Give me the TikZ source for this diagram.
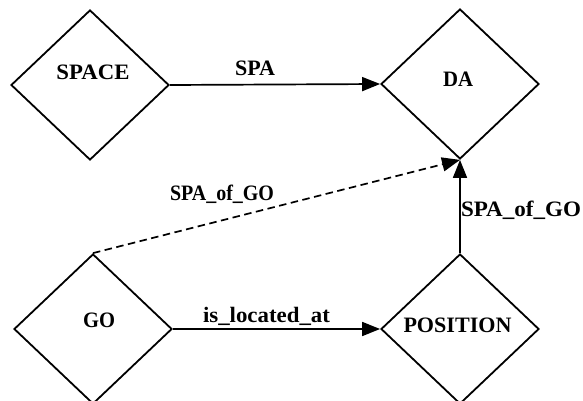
\documentclass[tikz,border=0pt]{standalone}
\usepackage{fontspec}
\usepackage{graphicx}
\setmainfont{Liberation Serif}
\usetikzlibrary{shapes.geometric,arrows.meta}
% bold label squeezed or stretched to a given width, height kept
\newcommand{\fitlabel}[2]{\resizebox{#1}{\height}{#2}}
\tikzset{
  entity/.style={diamond, draw=black, line width=1.8pt, minimum width=158pt,
    minimum height=150pt, inner sep=0pt},
  lbl/.style={inner sep=0pt, anchor=base, font=\bfseries\fontsize{22}{26}\selectfont},
  conn/.style={line width=1.7pt, -{Triangle[length=18pt,width=14pt]}},
  link/.style={conn, dash pattern=on 7.5pt off 4.5pt},
}
\begin{document}
\begin{tikzpicture}[x=1pt,y=-1pt]
  \useasboundingbox (0,0) rectangle (583,401);
  \clip (0,0) rectangle (583,401);
  % entity diamonds
  \node[entity] (space) at (90,85) {};
  \node[entity] (da) at (460,84) {};
  \node[entity] (go) at (93,329) {};
  \node[entity] (pos) at (460,329) {};
  % names inside the diamonds
  \node[lbl] (tspace) at (93,80) {\fitlabel{73pt}{SPACE}};
  \node[lbl] (tda) at (458,86.5) {\fitlabel{30pt}{DA}};
  \node[lbl] (tgo) at (99,327) {\fitlabel{32pt}{GO}};
  \node[lbl] (tpos) at (457.5,332) {\fitlabel{108pt}{POSITION}};
  % relations
  \draw[conn] (space.east) -- (da.west);
  \draw[conn] (go.east) -- (pos.west);
  \draw[conn] (pos.north) -- (da.south);
  \draw[link] (go.north) -- (da.south);
  % relation names
  \node[lbl] (tspa) at (255,76) {\fitlabel{40pt}{SPA}};
  \node[lbl] (tloc) at (266.5,322) {\fitlabel{127pt}{is\_located\_at}};
  \node[lbl] (tsog1) at (222,200) {\fitlabel{104pt}{SPA\_of\_GO}};
  \node[lbl] (tsog2) at (521,216) {\fitlabel{120pt}{SPA\_of\_GO}};
\end{tikzpicture}
\end{document}
